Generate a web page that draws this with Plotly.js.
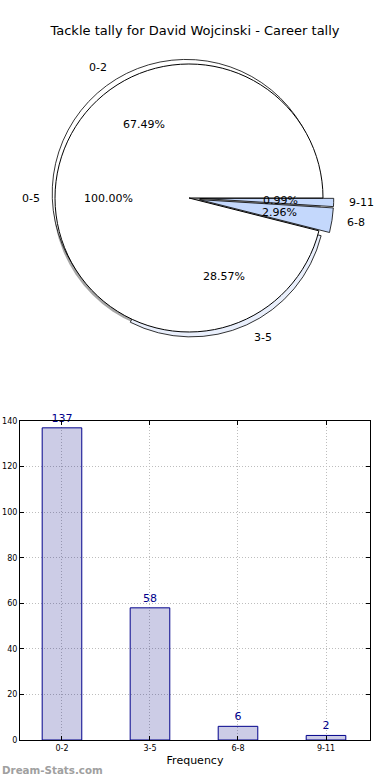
<!DOCTYPE html>
<html>
<head>
<meta charset="utf-8">
<script src="https://cdn.plot.ly/plotly-3.0.1.min.js"></script>
<style>html,body{margin:0;padding:0;background:#fff;}#chart{width:390px;height:780px;}</style>
</head>
<body>
<div id="chart"></div>
<script>
// ---- data ----
const categories = ['0-2', '3-5', '6-8', '9-11'];
const counts = [137, 58, 6, 2];
const groupLabels = ['0-5'];
const groupCounts = [195];
const titleText = 'Tackle tally for David Wojcinski - Career tally';

// ---- styles / geometry ----
const W = 390, H = 780;
const cx = 189, cy = 198, R = 134;
const pulls = [0.04, 0.04, 0.08, 0.08];
const sliceColors = ['#ffffff', '#e9effc', '#c4d8fc', '#c4d8fc'];
const maxPull = Math.max.apply(null, pulls);

function dom(centerX, centerY, half) {
  return {
    x: [(centerX - half) / W, (centerX + half) / W],
    y: [1 - (centerY + half) / H, 1 - (centerY - half) / H]
  };
}

const total = counts.reduce((a, b) => a + b, 0);
// make the first slice start at 3 o'clock and run counterclockwise
function rot(firstValue, sum) { return 90 - firstValue / sum * 360; }

// shadow of the grouped pie
const shadow = {
  type: 'pie', values: [total], labels: ['shadow'], sort: false,
  direction: 'counterclockwise', rotation: 0,
  marker: {colors: ['rgba(0,0,0,0.35)'], line: {width: 0}},
  textinfo: 'none', hoverinfo: 'skip',
  domain: dom(cx - 2, cy + 2, R)
};

// outer exploded pie with the four categories
const outer = {
  type: 'pie', values: counts, labels: categories, sort: false,
  direction: 'counterclockwise', rotation: rot(counts[0], total),
  pull: pulls,
  marker: {colors: sliceColors, line: {color: '#000', width: 0.8}},
  textinfo: 'none',
  domain: dom(cx, cy, R * (1 + maxPull))
};

// grouped pie (0-5) on top, remaining part left transparent
const grouped = {
  type: 'pie', values: [groupCounts[0], total - groupCounts[0]], labels: [groupLabels[0], 'rest'], sort: false,
  direction: 'counterclockwise', rotation: rot(groupCounts[0], total),
  marker: {colors: ['#ffffff', 'rgba(0,0,0,0)'], line: {color: ['#000', 'rgba(0,0,0,0)'], width: [1, 0]}},
  textinfo: 'none',
  domain: dom(cx, cy, R)
};

// bar chart
const bars = {
  type: 'bar', x: categories, y: counts, width: 0.45,
  marker: {color: 'rgba(0,0,130,0.2)', line: {color: '#00008b', width: 1}},
  text: counts.map(String), textposition: 'outside', cliponaxis: false,
  textfont: {color: '#00008b', size: 11, family: 'DejaVu Sans'},
  xaxis: 'x', yaxis: 'y', hoverinfo: 'x+y'
};

// pie annotations (labels and percentages), computed from the data
const annotations = [];
function addPieText(label, pctText, midDeg, pull) {
  const t = midDeg * Math.PI / 180;
  const dP = (pull + 0.6) * R, dL = (pull + 1.1) * R;
  annotations.push({
    xref: 'paper', yref: 'paper', showarrow: false,
    x: (cx + dP * Math.cos(t)) / W, y: 1 - (cy - dP * Math.sin(t)) / H,
    xanchor: 'center', yanchor: 'middle', text: pctText,
    font: {size: 11, color: '#000'}
  });
  annotations.push({
    xref: 'paper', yref: 'paper', showarrow: false,
    x: (cx + dL * Math.cos(t)) / W, y: 1 - (cy - dL * Math.sin(t)) / H,
    xanchor: Math.cos(t) >= 0 ? 'left' : 'right', yanchor: 'middle', text: label,
    font: {size: 11, color: '#000'}
  });
}
let cum = 0;
counts.forEach((v, i) => {
  const mid = (cum + v / 2) / total * 360;
  addPieText(categories[i], (v / total * 100).toFixed(2) + '%', mid, pulls[i]);
  cum += v;
});
// the grouped pie is a single full slice: its middle is at 180 degrees
addPieText(groupLabels[0], (groupCounts[0] / groupCounts[0] * 100).toFixed(2) + '%', 180, 0);

annotations.push({
  xref: 'paper', yref: 'paper', showarrow: false, x: 0, y: 1 - 770 / H,
  xanchor: 'left', yanchor: 'middle', text: '<b>Dream-Stats.com</b>',
  font: {size: 10.3, color: '#a0a0a0', family: 'DejaVu Sans'}
});

const axisCommon = {
  showline: true, mirror: 'ticks', linecolor: '#000', linewidth: 1,
  ticks: 'inside', ticklen: 4, tickcolor: '#000',
  showgrid: true, gridcolor: '#bdbdbd', griddash: '1px,2px', gridwidth: 1,
  zeroline: false, tickfont: {size: 8, color: '#000'}, automargin: false, fixedrange: true
};

const layout = {
  width: W, height: H,
  margin: {l: 0, r: 0, t: 0, b: 0},
  paper_bgcolor: '#fff', plot_bgcolor: '#fff',
  showlegend: false,
  font: {family: 'DejaVu Sans', size: 11, color: '#000'},
  title: {text: titleText, font: {size: 13, color: '#000'}, x: 0.5, xanchor: 'center', y: 1 - 30 / H, yanchor: 'middle'},
  xaxis: Object.assign({}, axisCommon, {
    domain: [20 / W, 370 / W], anchor: 'y', type: 'category', range: [-0.477, 3.5],
    title: {text: 'Frequency', font: {size: 11, color: '#000'}, standoff: 4}
  }),
  yaxis: Object.assign({}, axisCommon, {
    domain: [1 - 740 / H, 1 - 421 / H], anchor: 'x', range: [0, 140], dtick: 20
  }),
  annotations: annotations
};

Plotly.newPlot('chart', [shadow, outer, grouped, bars], layout, {displayModeBar: false, staticPlot: true});
</script>
</body>
</html>
